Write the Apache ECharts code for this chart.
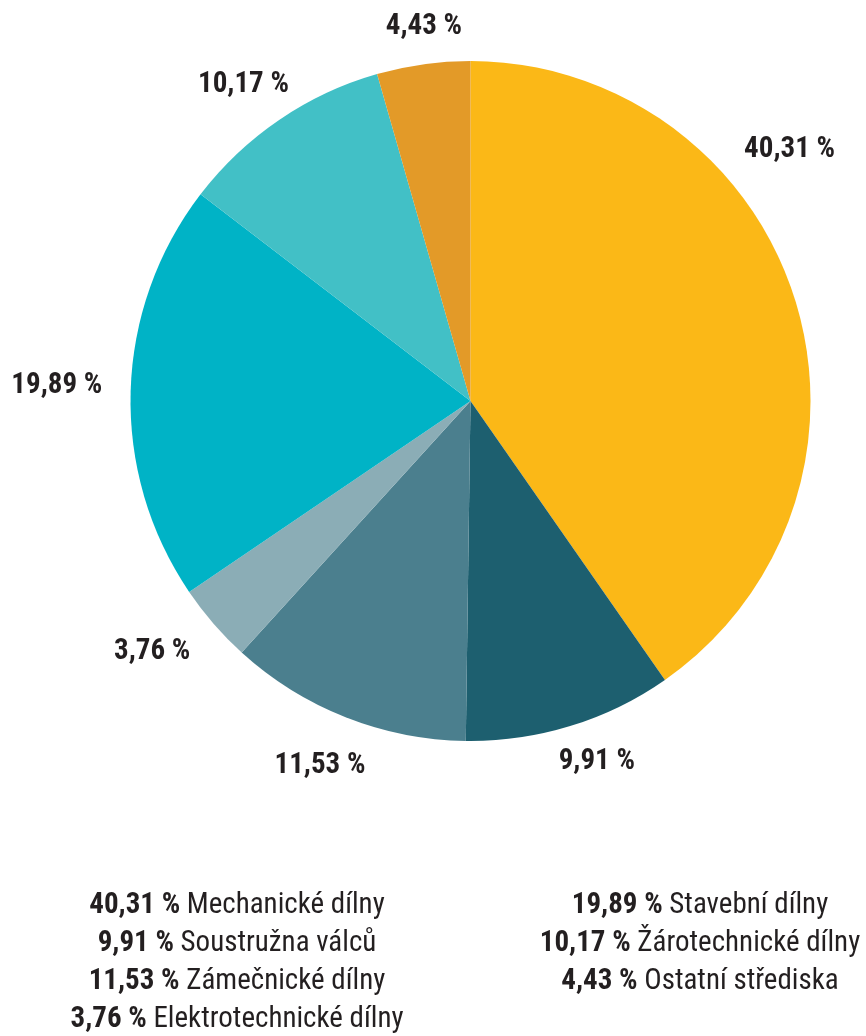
<!DOCTYPE html>
<html>
<head>
<meta charset="utf-8">
<script src="https://cdn.jsdelivr.net/npm/echarts@6/dist/echarts.min.js"></script>
<style>
html,body{margin:0;padding:0;background:#fff;}
#chart{width:866px;height:1036px;}
</style>
</head>
<body>
<div id="chart"></div>
<script>
const categories = ['Mechanické dílny', 'Soustružna válců', 'Zámečnické dílny', 'Elektrotechnické dílny', 'Stavební dílny', 'Žárotechnické dílny', 'Ostatní střediska'];
const values = [40.31, 9.91, 11.53, 3.76, 19.89, 10.17, 4.43];
const colors = ['#FBB817', '#1D5F6F', '#4B7F8E', '#8BADB6', '#00B3C6', '#42C0C6', '#E39A28'];
const legendLeft = [0, 1, 2, 3];
const legendRight = [4, 5, 6];

const FONT = '"Roboto Condensed", "Liberation Sans Narrow", "DejaVu Sans Condensed", Roboto, sans-serif';
const TEXT = '#231F20';
const CX = 470.5, CY = 401, R = 340;
// label placement style: angle (deg, clockwise from top) and distance of label centre from pie centre
const labelPlacement = {
  angle: [51.8, 160.7, 202.4, 231.8, 272.1, 324.3, 352.9],
  dist: [406, 382, 395, 405, 414, 389, 377]
};

function fmt(v) { return v.toFixed(2).replace('.', ',') + ' %'; }

function legendText(idx) {
  return idx.map(i => '{b|' + fmt(values[i]) + '}{n| ' + categories[i] + '}').join('\n');
}
const rich = {
  b: {fontFamily: FONT, fontWeight: 'bold', fontSize: 29, color: TEXT, lineHeight: 38},
  n: {fontFamily: FONT, fontWeight: 'normal', fontSize: 29, color: TEXT, lineHeight: 38}
};

const chart = echarts.init(document.getElementById('chart'), null, {renderer: 'canvas'});
chart.setOption({
  animation: false,
  backgroundColor: '#fff',
  title: [
    {left: 237, top: 887, padding: 0, textAlign: 'center', text: legendText(legendLeft), textStyle: {rich: rich, align: 'center'}},
    {left: 700, top: 887, padding: 0, textAlign: 'center', text: legendText(legendRight), textStyle: {rich: rich, align: 'center'}}
  ],
  series: [{
    type: 'pie',
    center: [CX, CY],
    radius: [0, R],
    startAngle: 90,
    clockwise: true,
    avoidLabelOverlap: false,
    itemStyle: {borderWidth: 0},
    label: {
      show: true,
      position: 'outside',
      formatter: p => fmt(p.value),
      fontFamily: FONT,
      fontWeight: 'bold',
      fontSize: 29,
      color: TEXT
    },
    labelLine: {show: false},
    labelLayout: function (p) {
      const i = p.dataIndex;
      const ang = labelPlacement.angle[i] * Math.PI / 180;
      const d = labelPlacement.dist[i];
      return {x: CX + Math.sin(ang) * d, y: CY - Math.cos(ang) * d, align: 'center', verticalAlign: 'middle'};
    },
    data: categories.map((c, i) => ({name: c, value: values[i], itemStyle: {color: colors[i]}}))
  }]
});
</script>
</body>
</html>
